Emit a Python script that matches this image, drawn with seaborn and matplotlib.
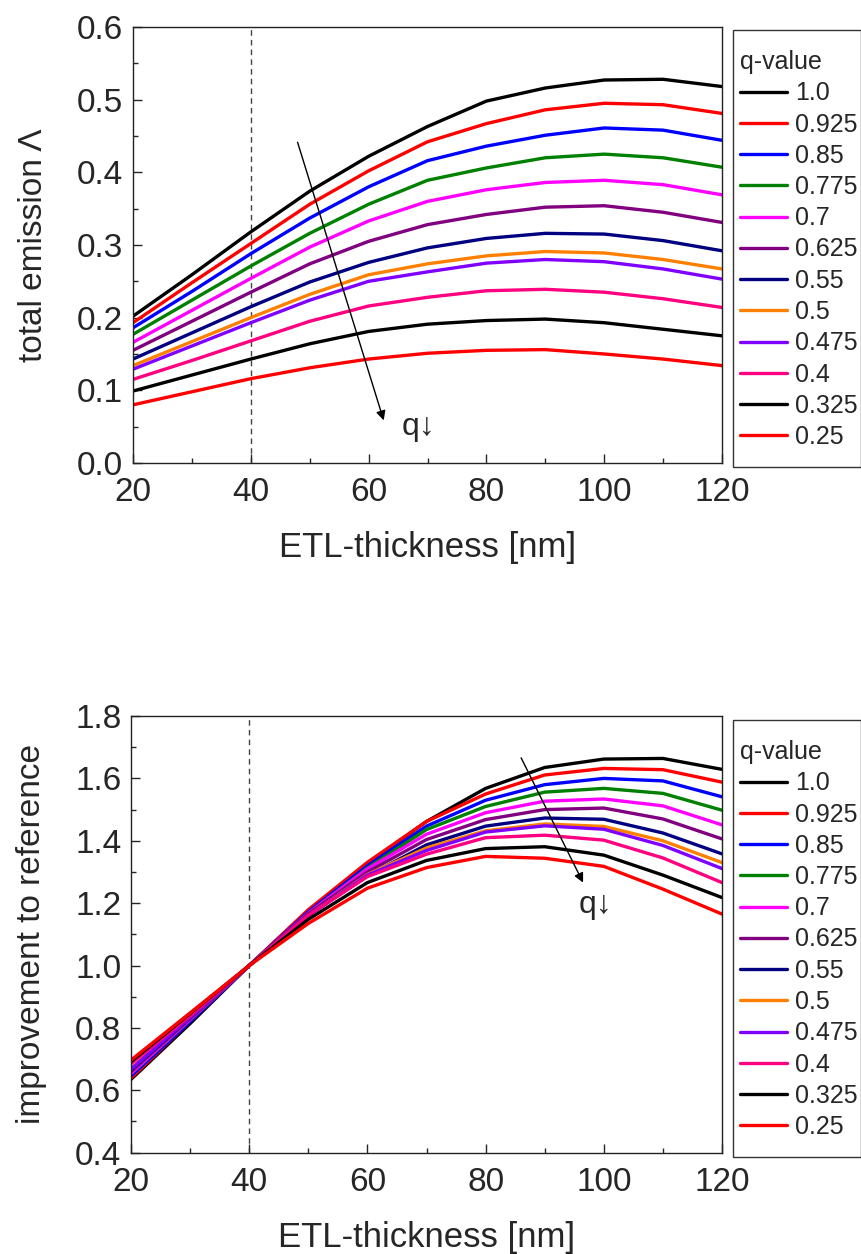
import numpy as np
import pandas as pd
import matplotlib
matplotlib.use("Agg")
import matplotlib.pyplot as plt
from matplotlib.patches import Rectangle
import seaborn as sns

# ETL thickness grid [nm]
thickness = [20, 30, 40, 50, 60, 70, 80, 90, 100, 110, 120]

q_labels = ["1.0", "0.925", "0.85", "0.775", "0.7", "0.625",
            "0.55", "0.5", "0.475", "0.4", "0.325", "0.25"]
q_colors = ["#000000", "#ff0000", "#0000ff", "#008000", "#ff00ff", "#800080",
            "#000080", "#ff8000", "#8000ff", "#ff0080", "#000000", "#ff0000"]

# top panel: total emission
emission = [
    [0.202, 0.259, 0.318, 0.374, 0.422, 0.463, 0.498, 0.516, 0.527, 0.528, 0.518],
    [0.193, 0.248, 0.302, 0.356, 0.402, 0.442, 0.467, 0.486, 0.495, 0.493, 0.481],
    [0.186, 0.236, 0.288, 0.337, 0.380, 0.416, 0.436, 0.451, 0.461, 0.458, 0.444],
    [0.177, 0.224, 0.271, 0.316, 0.356, 0.389, 0.406, 0.420, 0.425, 0.420, 0.407],
    [0.166, 0.210, 0.254, 0.297, 0.333, 0.360, 0.376, 0.386, 0.389, 0.383, 0.369],
    [0.155, 0.195, 0.235, 0.274, 0.305, 0.328, 0.342, 0.352, 0.354, 0.345, 0.331],
    [0.143, 0.179, 0.215, 0.249, 0.276, 0.296, 0.309, 0.316, 0.315, 0.306, 0.292],
    [0.134, 0.167, 0.200, 0.232, 0.259, 0.274, 0.285, 0.291, 0.289, 0.280, 0.267],
    [0.129, 0.161, 0.193, 0.224, 0.250, 0.263, 0.275, 0.280, 0.277, 0.267, 0.253],
    [0.115, 0.141, 0.168, 0.195, 0.216, 0.228, 0.237, 0.239, 0.235, 0.226, 0.214],
    [0.099, 0.121, 0.143, 0.164, 0.181, 0.191, 0.196, 0.198, 0.193, 0.184, 0.175],
    [0.080, 0.098, 0.116, 0.131, 0.143, 0.151, 0.155, 0.156, 0.150, 0.143, 0.134],
]

# bottom panel: improvement relative to the 40 nm reference
improvement = [
    [0.635, 0.814, 1.000, 1.176, 1.327, 1.462, 1.568, 1.635, 1.662, 1.664, 1.629],
    [0.639, 0.821, 1.000, 1.179, 1.331, 1.462, 1.550, 1.611, 1.632, 1.628, 1.588],
    [0.646, 0.820, 1.000, 1.172, 1.320, 1.447, 1.530, 1.580, 1.600, 1.592, 1.541],
    [0.653, 0.826, 1.000, 1.167, 1.313, 1.436, 1.510, 1.556, 1.568, 1.552, 1.498],
    [0.654, 0.827, 1.000, 1.168, 1.310, 1.421, 1.490, 1.527, 1.534, 1.512, 1.451],
    [0.660, 0.830, 1.000, 1.166, 1.300, 1.404, 1.468, 1.500, 1.505, 1.470, 1.406],
    [0.665, 0.833, 1.000, 1.160, 1.288, 1.387, 1.447, 1.473, 1.469, 1.425, 1.358],
    [0.670, 0.835, 1.000, 1.160, 1.292, 1.377, 1.432, 1.454, 1.446, 1.400, 1.330],
    [0.668, 0.834, 1.000, 1.160, 1.290, 1.369, 1.428, 1.448, 1.437, 1.385, 1.311],
    [0.685, 0.839, 1.000, 1.161, 1.285, 1.357, 1.410, 1.418, 1.402, 1.345, 1.266],
    [0.692, 0.846, 1.000, 1.148, 1.266, 1.337, 1.375, 1.381, 1.354, 1.290, 1.218],
    [0.697, 0.848, 1.000, 1.135, 1.248, 1.314, 1.350, 1.344, 1.318, 1.245, 1.165],
]


def to_long(values):
    rows = []
    for lab, ys in zip(q_labels, values):
        for x, y in zip(thickness, ys):
            rows.append({"thickness": x, "value": y, "q-value": lab})
    return pd.DataFrame(rows)


sns.set_style("ticks")
plt.rcParams["font.family"] = ["Liberation Sans", "DejaVu Sans"]
plt.rcParams["axes.linewidth"] = 1.0

palette = dict(zip(q_labels, q_colors))

W, H = 862, 1254
fig = plt.figure(figsize=(W / 100, H / 100), dpi=100)
ax1 = fig.add_axes([0.1543, 0.6308, 0.6833, 0.3477])
ax2 = fig.add_axes([0.1520, 0.0808, 0.6856, 0.3482])

# (axes, data, ylim, step, ylabel, legend box top px)
panels = [
    (ax1, emission, (0.0, 0.6), 0.1, "total emission Λ", 30),
    (ax2, improvement, (0.4, 1.8), 0.2, "improvement to reference", 720),
]

for ax, vals, ylim, ystep, ylabel, box_top in panels:
    df = to_long(vals)
    sns.lineplot(data=df, x="thickness", y="value", hue="q-value",
                 hue_order=q_labels, palette=palette, linewidth=2.4,
                 ax=ax, legend=True)
    ax.axvline(40, color="#444444", lw=1.0, ls=(0, (4, 3)), zorder=0)

    ax.set_xlim(20, 120)
    ax.set_ylim(*ylim)
    ax.set_xticks(np.arange(20, 121, 20))
    ax.set_xticks(np.arange(30, 121, 20), minor=True)
    ax.set_yticks(np.round(np.arange(ylim[0], ylim[1] + 1e-9, ystep), 2))
    ax.set_yticks(np.round(np.arange(ylim[0] + ystep / 2, ylim[1], ystep), 3), minor=True)
    ax.yaxis.set_major_formatter(matplotlib.ticker.FormatStrFormatter("%.1f"))
    ax.tick_params(which="both", direction="in", top=False, right=False,
                   width=1.0, labelsize=24)
    ax.tick_params(axis="y", pad=7)
    ax.tick_params(axis="x", pad=10)
    ax.tick_params(which="major", length=6.5)
    ax.tick_params(which="minor", length=3.5)
    for sp in ax.spines.values():
        sp.set_visible(True)
        sp.set_color("#222222")

    ax.set_xlabel("ETL-thickness [nm]", fontsize=25, labelpad=17)
    ax.set_ylabel(ylabel, fontsize=24, labelpad=20)

    # legend frame drawn separately so the padding matches the original
    fig.add_artist(Rectangle((733 / W, 1 - (box_top + 437) / H), 128 / W, 437 / H,
                             transform=fig.transFigure, fill=False,
                             edgecolor="#333333", lw=1.0))
    handles, labels = ax.get_legend_handles_labels()
    for h in handles:
        h.set_linewidth(2.4)
    ax.legend(handles, labels, title="q-value", loc="upper left",
              bbox_to_anchor=(740 / W, 1 - (box_top + 20) / H),
              bbox_transform=fig.transFigure,
              borderaxespad=0, borderpad=0, frameon=False,
              fontsize=18, title_fontsize=18, alignment="left",
              handlelength=1.88, handletextpad=0.33, labelspacing=0.29)

ax1.annotate("", xy=(62.7, 0.055), xytext=(47.8, 0.445),
             arrowprops=dict(arrowstyle="-|>", color="black", lw=1.0,
                             mutation_scale=14))
ax1.text(65.6, 0.05, "q↓", fontsize=23, va="center", ha="left")

ax2.annotate("", xy=(96.7, 1.258), xytext=(85.8, 1.674),
             arrowprops=dict(arrowstyle="-|>", color="black", lw=1.0,
                             mutation_scale=14))
ax2.text(95.7, 1.195, "q↓", fontsize=23, va="center", ha="left")

fig.savefig("out.png", dpi=100)
